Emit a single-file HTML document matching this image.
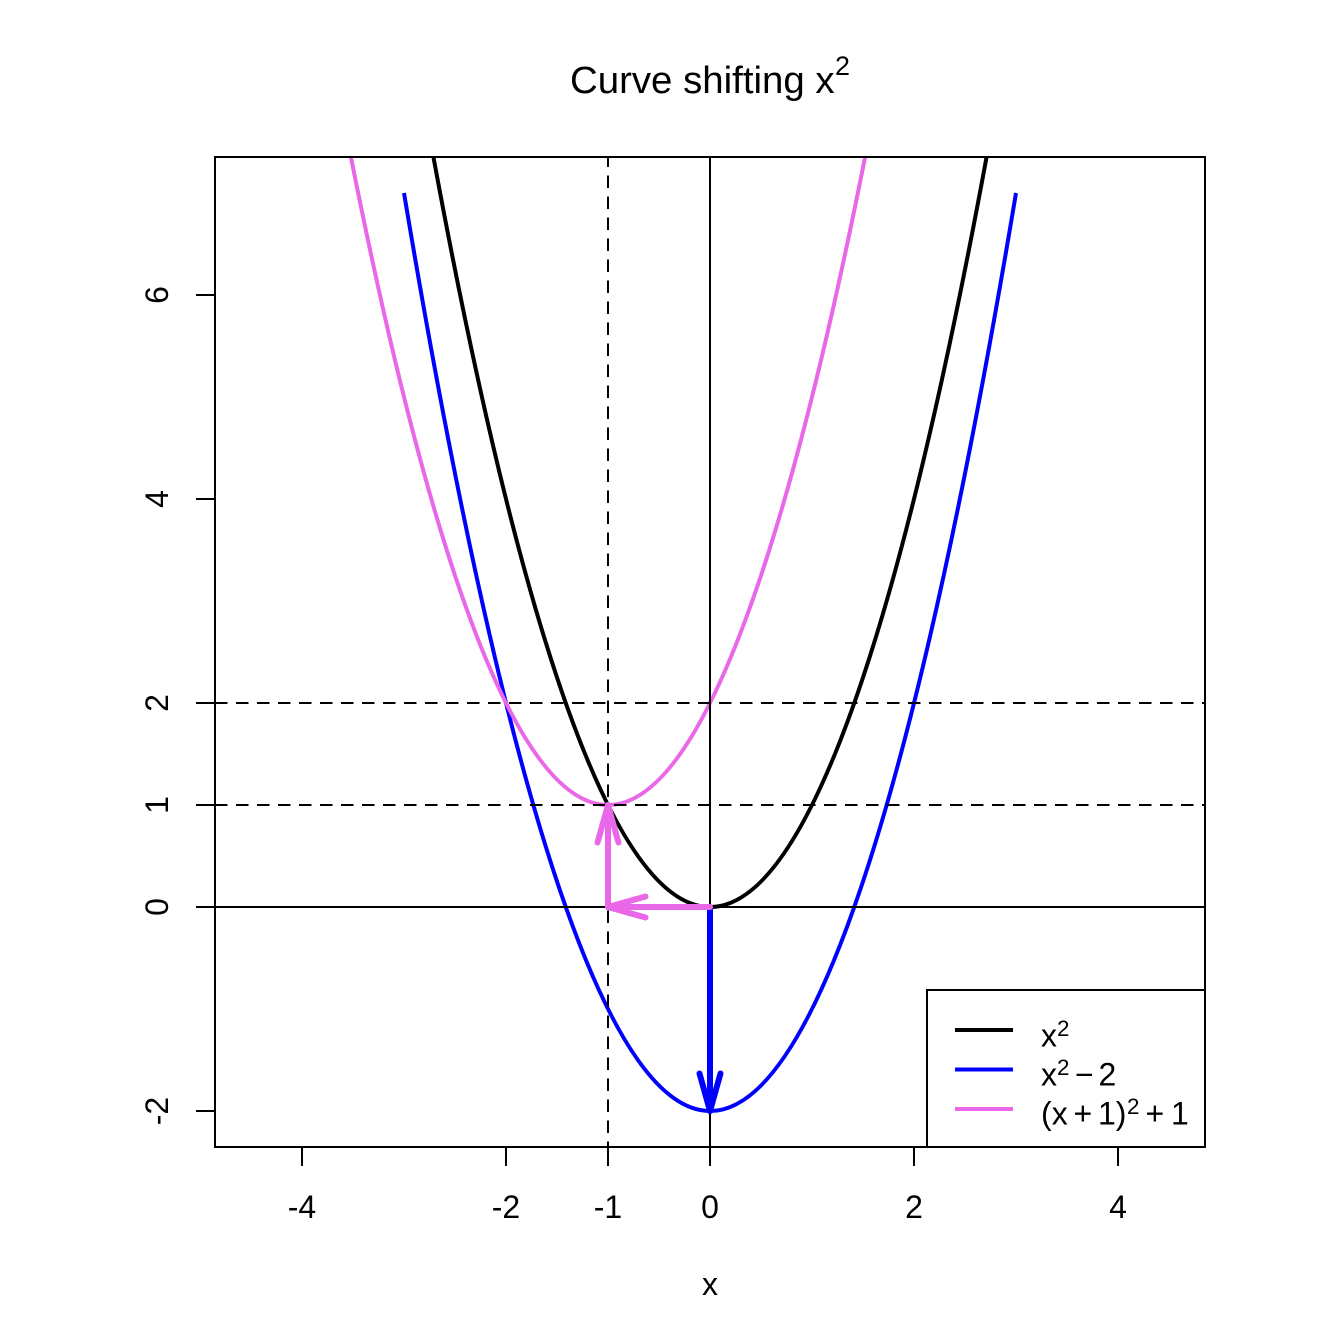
<!DOCTYPE html>
<html>
<head>
<meta charset="utf-8">
<style>
html,body{margin:0;padding:0;background:#fff;}
svg{display:block;}
text{font-family:"Liberation Sans", Arial, sans-serif;fill:#000;}
</style>
</head>
<body>
<svg width="1344" height="1344" viewBox="0 0 1344 1344" xmlns="http://www.w3.org/2000/svg">
<defs>
<clipPath id="plot"><rect x="215" y="157" width="990" height="990"/></clipPath>
</defs>
<rect x="0" y="0" width="1344" height="1344" fill="#fff"/>

<!-- Title -->
<text x="570" y="93" font-size="38.4">Curve shifting x</text>
<text x="835" y="75" font-size="26.9">2</text>

<g clip-path="url(#plot)">
  <!-- curves -->
  <path d="M404,-11 Q710,1825 1016,-11" fill="none" stroke="#000" stroke-width="4"/>
  <path d="M404,193 Q710,2029 1016,193" fill="none" stroke="#0000FF" stroke-width="4"/>
  <path d="M302,-113 Q608,1723 914,-113" fill="none" stroke="#E868E8" stroke-width="4"/>

  <!-- reference lines -->
  <line x1="215" y1="907" x2="1205" y2="907" stroke="#000" stroke-width="2"/>
  <line x1="710" y1="157" x2="710" y2="1147" stroke="#000" stroke-width="2"/>
  <line x1="215" y1="703" x2="1205" y2="703" stroke="#000" stroke-width="2" stroke-dasharray="12.5 8.5"/>
  <line x1="215" y1="805" x2="1205" y2="805" stroke="#000" stroke-width="2" stroke-dasharray="12.5 8.5"/>
  <line x1="608" y1="157" x2="608" y2="1147" stroke="#000" stroke-width="2" stroke-dasharray="12.5 8.5" stroke-dashoffset="2.5"/>

  <!-- arrows -->
  <g fill="none" stroke="#0000FF" stroke-width="6" stroke-linecap="round" stroke-linejoin="round">
    <line x1="710" y1="907" x2="710" y2="1111"/>
    <polyline points="699.5,1073.5 710,1111 720.5,1073.5"/>
  </g>
  <g fill="none" stroke="#E868E8" stroke-width="6" stroke-linecap="round" stroke-linejoin="round">
    <line x1="710" y1="907" x2="608" y2="907"/>
    <polyline points="645.5,896.5 608,907 645.5,917.5"/>
    <line x1="608" y1="907" x2="608" y2="805"/>
    <polyline points="597.5,842.5 608,805 618.5,842.5"/>
  </g>
</g>

<!-- plot box -->
<rect x="215" y="157" width="990" height="990" fill="none" stroke="#000" stroke-width="2"/>

<!-- x axis ticks -->
<g stroke="#000" stroke-width="2">
  <line x1="302" y1="1147" x2="302" y2="1166"/>
  <line x1="506" y1="1147" x2="506" y2="1166"/>
  <line x1="608" y1="1147" x2="608" y2="1166"/>
  <line x1="710" y1="1147" x2="710" y2="1166"/>
  <line x1="914" y1="1147" x2="914" y2="1166"/>
  <line x1="1118" y1="1147" x2="1118" y2="1166"/>
</g>
<g font-size="32" text-anchor="middle">
  <text x="302" y="1218">-4</text>
  <text x="506" y="1218">-2</text>
  <text x="608" y="1218">-1</text>
  <text x="710" y="1218">0</text>
  <text x="914" y="1218">2</text>
  <text x="1118" y="1218">4</text>
  <text x="710" y="1295">x</text>
</g>

<!-- y axis ticks -->
<g stroke="#000" stroke-width="2">
  <line x1="215" y1="1111" x2="196" y2="1111"/>
  <line x1="215" y1="907" x2="196" y2="907"/>
  <line x1="215" y1="805" x2="196" y2="805"/>
  <line x1="215" y1="703" x2="196" y2="703"/>
  <line x1="215" y1="499" x2="196" y2="499"/>
  <line x1="215" y1="295" x2="196" y2="295"/>
</g>
<g font-size="32" text-anchor="middle">
  <text x="168" y="1111" transform="rotate(-90 168 1111)">-2</text>
  <text x="168" y="907" transform="rotate(-90 168 907)">0</text>
  <text x="168" y="805" transform="rotate(-90 168 805)">1</text>
  <text x="168" y="703" transform="rotate(-90 168 703)">2</text>
  <text x="168" y="499" transform="rotate(-90 168 499)">4</text>
  <text x="168" y="295" transform="rotate(-90 168 295)">6</text>
</g>

<!-- legend -->
<rect x="927" y="990" width="278" height="157" fill="#fff" stroke="#000" stroke-width="2"/>
<line x1="955" y1="1030" x2="1013" y2="1030" stroke="#000" stroke-width="4"/>
<line x1="955" y1="1069.5" x2="1013" y2="1069.5" stroke="#0000FF" stroke-width="4"/>
<line x1="955" y1="1109" x2="1013" y2="1109" stroke="#E868E8" stroke-width="4"/>

<g font-size="32">
  <!-- row 1 -->
  <text x="1041" y="1046.5">x</text>
  <text x="1057" y="1036" font-size="22.4">2</text>
  <!-- row 2 -->
  <text x="1041" y="1085.5">x</text>
  <text x="1057" y="1075" font-size="22.4">2</text>
  <text x="1075" y="1085.5">−</text>
  <text x="1098.5" y="1085.5">2</text>
  <!-- row 3 -->
  <text x="1041" y="1124.5">(</text>
  <text x="1051.7" y="1124.5">x</text>
  <text x="1073.5" y="1124.5">+</text>
  <text x="1098" y="1124.5">1</text>
  <text x="1115.8" y="1124.5">)</text>
  <text x="1127" y="1114" font-size="22.4">2</text>
  <text x="1145.5" y="1124.5">+</text>
  <text x="1171" y="1124.5">1</text>
</g>
</svg>
</body>
</html>
